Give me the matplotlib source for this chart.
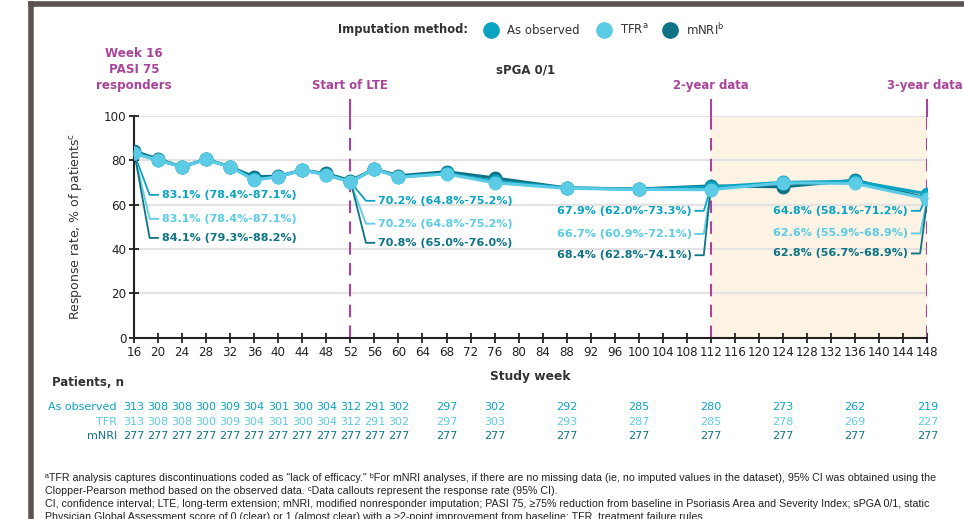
import matplotlib.pyplot as plt
import numpy as np
from matplotlib.lines import Line2D

# Dados
semanas = [16, 20, 24, 28, 32, 36, 40, 44, 48, 52, 56, 60, 68, 76, 88, 100, 112, 124, 136, 148]
observado = [83.1, 80.0, 77.0, 80.3, 77.0, 71.5, 72.5, 75.5, 73.5, 70.2, 76.0, 72.5, 74.0, 70.5, 67.5, 67.0, 67.9, 70.0, 70.5, 64.8]
tfr = [83.1, 80.0, 77.0, 80.3, 77.0, 71.0, 72.5, 75.5, 73.5, 70.2, 76.0, 72.3, 73.8, 69.8, 67.3, 66.8, 66.7, 69.8, 69.5, 62.6]
mnri = [84.1, 80.5, 77.0, 80.5, 77.0, 72.5, 72.8, 75.5, 74.0, 70.8, 76.0, 73.0, 74.8, 72.0, 67.5, 67.0, 68.4, 68.0, 71.0, 62.8]

n_observado = [313, 308, 308, 300, 309, 304, 301, 300, 304, 312, 291, 302, 297, 302, 292, 285, 280, 273, 262, 219]
n_tfr = [313, 308, 308, 300, 309, 304, 301, 300, 304, 312, 291, 302, 297, 303, 293, 287, 285, 278, 269, 227]
n_mnri = [277] * 20

# Chamadas (semana, textos para observado / TFR / mNRI)
chamadas = {
    16: ['83.1% (78.4%-87.1%)', '83.1% (78.4%-87.1%)', '84.1% (79.3%-88.2%)'],
    52: ['70.2% (64.8%-75.2%)', '70.2% (64.8%-75.2%)', '70.8% (65.0%-76.0%)'],
    112: ['67.9% (62.0%-73.3%)', '66.7% (60.9%-72.1%)', '68.4% (62.8%-74.1%)'],
    148: ['64.8% (58.1%-71.2%)', '62.6% (55.9%-68.9%)', '62.8% (56.7%-68.9%)'],
}

cor_obs = '#0aa3c2'
cor_tfr = '#5ccbe5'
cor_mnri = '#0e7384'
magenta = '#a8449a'
cinza = '#333333'

plt.rcParams['font.family'] = ['DejaVu Sans']

fig = plt.figure(figsize=(9.64, 5.19), dpi=100)
ax = fig.add_axes([0.139, 0.349, 0.823, 0.428])

# Região sombreada (2 a 3 anos)
ax.axvspan(112, 148, color='#fdf3e4', zorder=0)
for v in [20, 40, 60, 80, 100]:
    ax.axhline(v, color='#e3e3e3', lw=1.5, zorder=1)

for x in [52, 112, 148]:
    ax.plot([x, x], [0, 100], color=magenta, lw=1.5, ls=(0, (6, 4)), zorder=2)
    ax.plot([x, x], [100, 107], color=magenta, lw=1.5, zorder=2, clip_on=False)

# Linhas
for ys, cor in [(mnri, cor_mnri), (observado, cor_obs), (tfr, cor_tfr)]:
    ax.plot(semanas, ys, color=cor, lw=2.2, marker='o', ms=9, zorder=4)

# Chamadas com linhas de ligação
def chamada(sx, sy, cx, ty, tx, texto, cor, ha):
    ax.plot([sx, cx, tx], [sy, ty, ty], color=cor, lw=1.3, zorder=3, clip_on=False)
    dx = 0.6 if ha == 'left' else -0.6
    ax.text(tx + dx, ty, texto, color=cor, fontsize=8, fontweight='bold', ha=ha, va='center')

yl = {16: [64.4, 53.6, 45.0], 52: [61.7, 51.4, 42.8], 112: [57.2, 46.8, 37.2], 148: [57.2, 47.0, 38.0]}
for semana, textos in chamadas.items():
    i = semanas.index(semana)
    valores = [observado[i], tfr[i], mnri[i]]
    cores = [cor_obs, cor_tfr, cor_mnri]
    for k in range(3):
        if semana in (16, 52):
            chamada(semana, valores[k], semana + 2.6, yl[semana][k], semana + 4.0, textos[k], cores[k], 'left')
        else:
            chamada(semana, valores[k], semana - 1.2, yl[semana][k], semana - 2.6, textos[k], cores[k], 'right')

ax.set_xlim(16, 148)
ax.set_ylim(0, 100)
ax.set_xticks(np.arange(16, 149, 4))
ax.set_yticks([0, 20, 40, 60, 80, 100])
ax.tick_params(direction='inout', length=7, width=1.3, labelsize=8.6, colors='#222222', pad=2)
for s in ['top', 'right']:
    ax.spines[s].set_visible(False)
for s in ['left', 'bottom']:
    ax.spines[s].set_linewidth(1.5)
    ax.spines[s].set_color('#222222')
ax.set_xlabel('Study week', fontsize=8.8, fontweight='bold', color=cinza, labelpad=8)
ax.set_ylabel('Response rate, % of patients$^{\\mathrm{c}}$', fontsize=9, color=cinza, labelpad=14)

# Títulos em magenta
ax.text(16, 110.5, 'Week 16\nPASI 75\nresponders', ha='center', va='bottom', color=magenta,
        fontsize=8.6, fontweight='bold', linespacing=1.3)
for x, t in [(52, 'Start of LTE'), (112, '2-year data'), (147.6, '3-year data')]:
    ax.text(x, 110.5, t, ha='center', va='bottom', color=magenta, fontsize=8.4, fontweight='bold')
fig.text(555 / 964, 1 - 70 / 519, 'sPGA 0/1', ha='right', va='center', fontsize=8.5, fontweight='bold', color=cinza)

# Legenda
fig.text(468 / 964, 1 - 30 / 519, 'Imputation method:', ha='right', va='center', fontsize=8.3, fontweight='bold', color=cinza)
for x, cor, rot in [(491, cor_obs, 'As observed'), (604, cor_tfr, 'TFR$^{\\mathrm{a}}$'), (670, cor_mnri, 'mNRI$^{\\mathrm{b}}$')]:
    fig.lines.append(Line2D([x / 964], [1 - 30 / 519], marker='o', ms=11, color=cor, transform=fig.transFigure))
    fig.text((x + 16) / 964, 1 - 30 / 519, rot, ha='left', va='center', fontsize=8.5, color=cinza)

# Tabela de pacientes
fig.text(52 / 964, 1 - 383 / 519, 'Patients, n', ha='left', va='center', fontsize=8.5, fontweight='bold', color=cinza)
for yy, rot, ns, cor in [(407, 'As observed', n_observado, cor_obs), (422, 'TFR', n_tfr, cor_tfr), (436, 'mNRI', n_mnri, cor_mnri)]:
    yf = 1 - yy / 519
    fig.text(117 / 964, yf, rot, ha='right', va='center', fontsize=8, color=cor)
    for s, n in zip(semanas, ns):
        xd = ax.transData.transform((s, 0))[0]
        fig.text(xd / 964, yf, str(n), ha='center', va='center', fontsize=8, color=cor)

# Notas de rodapé
notas = [
    '\u1d43TFR analysis captures discontinuations coded as "lack of efficacy." \u1d47For mNRI analyses, if there are no missing data (ie, no imputed values in the dataset), 95% CI was obtained using the',
    'Clopper-Pearson method based on the observed data. \u1d9cData callouts represent the response rate (95% CI).',
    'CI, confidence interval; LTE, long-term extension; mNRI, modified nonresponder imputation; PASI 75, \u226575% reduction from baseline in Psoriasis Area and Severity Index; sPGA 0/1, static',
    'Physician Global Assessment score of 0 (clear) or 1 (almost clear) with a \u22652-point improvement from baseline; TFR, treatment failure rules.',
]
for i, t in enumerate(notas):
    fig.text(45 / 964, 1 - (478 + 13 * i) / 519, t, ha='left', va='center', fontsize=7.65,
             color='#222222', family=['Liberation Sans', 'DejaVu Sans'])

# Moldura
fig.lines.append(Line2D([31 / 964, 31 / 964], [0, 1 - 4 / 519], color='#5a5350', lw=4, transform=fig.transFigure))
fig.lines.append(Line2D([31 / 964, 1], [1 - 4 / 519, 1 - 4 / 519], color='#5a5350', lw=4, transform=fig.transFigure))

fig.savefig('out.png', dpi=100)
